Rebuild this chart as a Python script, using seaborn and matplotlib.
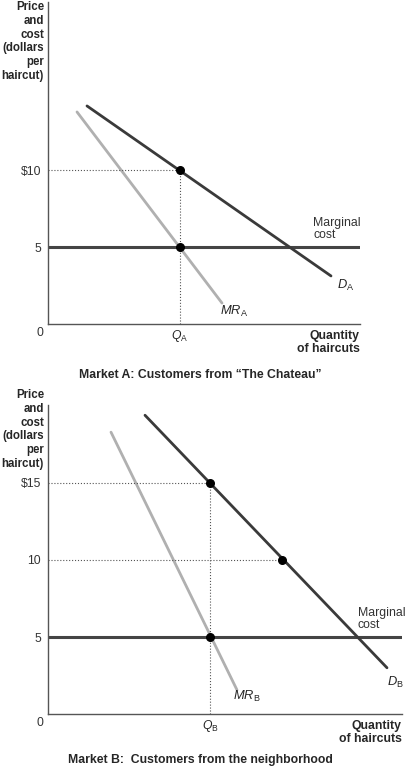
import matplotlib
matplotlib.use("Agg")
import matplotlib.pyplot as plt
import seaborn as sns

sns.set_style("white")
plt.rcParams['font.family'] = ['Liberation Sans', 'DejaVu Sans']
plt.rcParams['mathtext.fontset'] = 'custom'
plt.rcParams['mathtext.rm'] = 'Liberation Sans'
plt.rcParams['mathtext.it'] = 'Liberation Sans:italic'

# Market A
dA_x = [39, 283]; dA_y = [14.16, 3.12]
mrA_x = [29, 174]; mrA_y = [13.77, 1.36]
qA = 132; pA = 10; mc = 5
# Market B
dB_x = [97, 339]; dB_y = [19.4, 3.0]
mrB_x = [63, 189]; mrB_y = [18.3, 1.56]
qB = 162; pB = 15; q10 = 234; p10 = 10

W, H = 407, 771
fig = plt.figure(figsize=(W/100, H/100), dpi=100)
dark = "#3a3a3a"; grey = "#b0b0b0"
fs = 8.8

def ax_at(l, r, t, b):
    return fig.add_axes([l/W, 1-b/H, (r-l)/W, (b-t)/H])

def setup(ax, xmax, ymax, ticks, labels):
    ax.set_xlim(0, xmax); ax.set_ylim(0, ymax)
    for s in ['top', 'right']: ax.spines[s].set_visible(False)
    for s in ['left', 'bottom']:
        ax.spines[s].set_color("#555555"); ax.spines[s].set_linewidth(1)
    ax.set_xticks([]); ax.set_yticks(ticks)
    ax.set_yticklabels(labels, fontsize=fs, color="#333333")
    ax.tick_params(axis='y', length=0, pad=5)

# Top panel
ax1 = ax_at(48, 360, 2, 324)
setup(ax1, 312, 322/15.4, [5, 10], ["5", "$10"])
sns.lineplot(x=[0, 312], y=[mc, mc], ax=ax1, color="#444444", lw=2.2)
sns.lineplot(x=mrA_x, y=mrA_y, ax=ax1, color=grey, lw=2)
sns.lineplot(x=dA_x, y=dA_y, ax=ax1, color=dark, lw=2)
ax1.plot([0, qA], [pA, pA], ls=':', color="#555555", lw=0.8)
ax1.plot([qA, qA], [0, pA], ls=':', color="#555555", lw=0.8)
ax1.scatter([qA, qA], [pA, mc], color='black', s=30, zorder=5)
ax1.text(265, 5.6, "Marginal\ncost", fontsize=fs, color="#333333", linespacing=1.0)
ax1.text(289, 2.3, "$D_{\\mathrm{A}}$", fontsize=fs+0.5)
ax1.text(172, 0.6, "$MR_{\\mathrm{A}}$", fontsize=fs+0.5)

# Bottom panel
ax2 = ax_at(48, 402, 405, 714)
setup(ax2, 354, 309/15.4, [5, 10, 15], ["5", "10", "$15"])
sns.lineplot(x=[0, 359], y=[mc, mc], ax=ax2, color="#444444", lw=2.2)
sns.lineplot(x=mrB_x, y=mrB_y, ax=ax2, color=grey, lw=2)
sns.lineplot(x=dB_x, y=dB_y, ax=ax2, color=dark, lw=2)
ax2.plot([0, qB], [pB, pB], ls=':', color="#555555", lw=0.8)
ax2.plot([qB, qB], [0, pB], ls=':', color="#555555", lw=0.8)
ax2.plot([0, q10], [p10, p10], ls=':', color="#555555", lw=0.8)
ax2.scatter([qB, q10, qB], [pB, p10, mc], color='black', s=30, zorder=5)
ax2.set_xlim(0, 354)
ax2.text(310, 5.6, "Marginal\ncost", fontsize=fs, color="#333333", linespacing=1.0)
ax2.text(339, 1.8, "$D_{\\mathrm{B}}$", fontsize=fs+0.5)
ax2.text(185, 0.9, "$MR_{\\mathrm{B}}$", fontsize=fs+0.5)

def ft(x, y, s, **kw):
    kw.setdefault('fontsize', fs)
    fig.text(x/W, 1-y/H, s, **kw)

ylab = "Price\nand\ncost\n(dollars\nper\nhaircut)"
ft(44, 1, ylab, ha='right', va='top', fontweight='bold', linespacing=1.2, fontsize=8.3)
ft(44, 389, ylab, ha='right', va='top', fontweight='bold', linespacing=1.2, fontsize=8.3)
ft(40, 333, "0", ha='center', va='center', color="#333333")
ft(40, 723, "0", ha='center', va='center', color="#333333")
ft(180, 336, "$Q_{\\mathrm{A}}$", ha='center', va='center')
ft(210, 726, "$Q_{\\mathrm{B}}$", ha='center', va='center')
ft(360, 330, "Quantity\nof haircuts", ha='right', va='top', fontweight='bold', linespacing=1.1)
ft(402, 720, "Quantity\nof haircuts", ha='right', va='top', fontweight='bold', linespacing=1.1)
ft(200, 375, "Market A: Customers from \u201cThe Chateau\u201d", ha='center', va='center', fontweight='bold')
ft(200, 760, "Market B:  Customers from the neighborhood", ha='center', va='center', fontweight='bold')

fig.savefig("out.png", dpi=100)
